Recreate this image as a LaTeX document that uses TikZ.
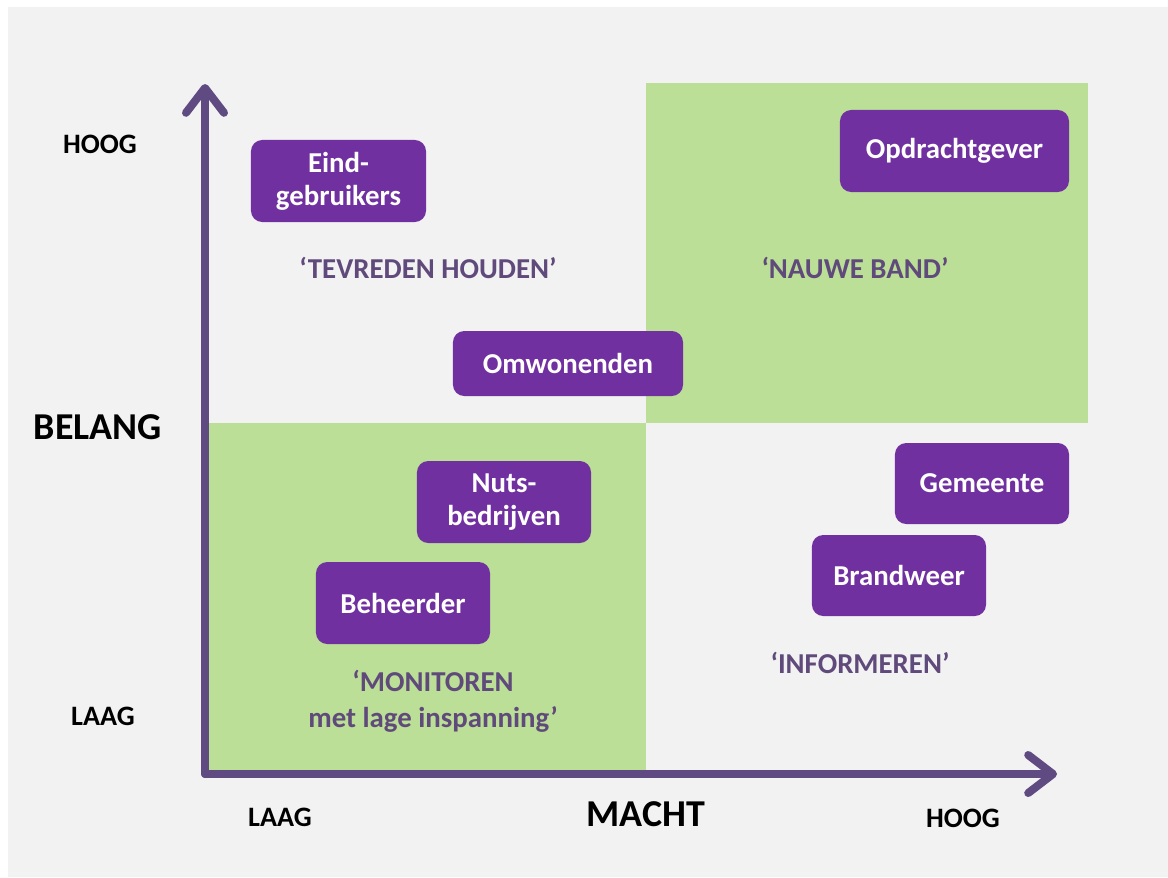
\documentclass[tikz,border=0pt]{standalone}
\usepackage{fontspec}
\setmainfont{Carlito}
\usetikzlibrary{arrows.meta}

\definecolor{bggray}{HTML}{F2F2F2}
\definecolor{quadgreen}{HTML}{BBDF96}
\definecolor{boxpurple}{HTML}{7030A0}
\definecolor{axispurple}{HTML}{5F4B82}
\definecolor{labelpurple}{HTML}{604A7B}

\tikzset{
  stake/.style={fill=boxpurple, rounded corners=8pt, text=white, align=center,
    font=\fontsize{20.5}{23.5}\selectfont\bfseries, inner sep=0pt},
  quadlabel/.style={text=labelpurple, align=center, font=\fontsize{20.5}{25.5}\selectfont\bfseries},
  ticklabel/.style={font=\fontsize{20}{22}\selectfont\bfseries},
  axislabel/.style={font=\fontsize{27}{30}\selectfont\bfseries},
  axis/.style={axispurple, line width=8*0.025cm, line cap=round,
    -{Straight Barb[length=0.62cm, width=0.95cm, round]}}
}

\begin{document}
\begin{tikzpicture}[x=0.025cm, y=-0.025cm]

  % background
  \fill[white] (0,0) rectangle (1168,877);
  \fill[bggray] (8,7) rectangle (1168,877);
  \useasboundingbox (0,0) rectangle (1168,877);

  % green quadrants
  \fill[quadgreen] (646,83) rectangle (1088,423);
  \fill[quadgreen] (205,423) rectangle (646,772);

  % axes
  \coordinate (origin) at (205,774);
  \coordinate (ytop) at (205,84);
  \coordinate (xend) at (1057,774);
  \draw[axis] (origin) -- (ytop);
  \draw[axis] (origin) -- (xend);

  % axis labels
  \node[ticklabel] (yhigh) at (100,144) {HOOG};
  \node[ticklabel] (ylow) at (103,716) {LAAG};
  \node[axislabel] (belang) at (98,427) {BELANG};
  \node[ticklabel] (xlow) at (280,817) {LAAG};
  \node[axislabel] (macht) at (646,814) {MACHT};
  \node[ticklabel] (xhigh) at (963,818) {HOOG};

  % quadrant labels
  \node[quadlabel] (tevreden) at (428,268) {‘TEVREDEN HOUDEN’};
  \node[quadlabel] (nauwe) at (855,268) {‘NAUWE BAND’};
  \node[quadlabel] (monitoren) at (433,701) {‘MONITOREN\\met lage inspanning’};
  \node[quadlabel] (informeren) at (860,663) {‘INFORMEREN’};

  % stakeholders
  \node[stake, minimum width=4.375cm, minimum height=2.05cm] (eind) at (338.5,181) {Eind-\\gebruikers};
  \node[stake, minimum width=5.725cm, minimum height=2.05cm] (opdracht) at (954.5,151) {Opdrachtgever};
  \node[stake, minimum width=5.75cm, minimum height=1.625cm] (omwonenden) at (568,363.5) {Omwonenden};
  \node[stake, minimum width=4.35cm, minimum height=2.05cm] (nuts) at (504,502) {Nuts-\\bedrijven};
  \node[stake, minimum width=4.35cm, minimum height=2.05cm] (beheerder) at (403,603) {Beheerder};
  \node[stake, minimum width=4.35cm, minimum height=2.025cm] (gemeente) at (982,483.5) {Gemeente};
  \node[stake, minimum width=4.35cm, minimum height=2.025cm] (brandweer) at (899,575.5) {Brandweer};

\end{tikzpicture}
\end{document}
